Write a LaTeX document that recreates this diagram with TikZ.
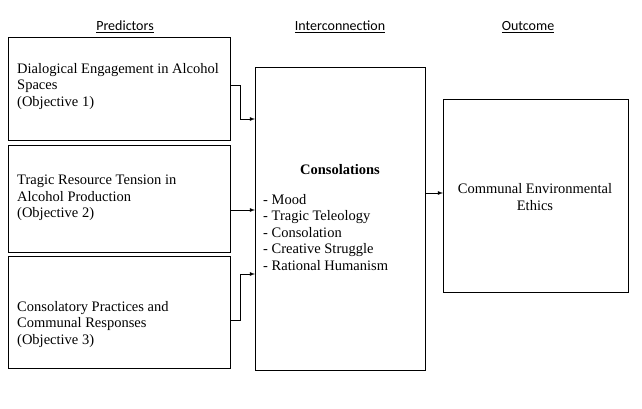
\documentclass[tikz,border=0pt]{standalone}
\usepackage{fontspec}
\setmainfont{Liberation Serif}
\newfontfamily\headfont{Carlito}
\usetikzlibrary{positioning}
\tikzset{
    box/.style = {draw, thick, inner sep=0pt},
    txt/.style = {align=left, font=\fontsize{14.5}{16.5}\selectfont, inner sep=0pt},
    head/.style = {font=\headfont\fontsize{14}{15}\selectfont, inner sep=0pt},
    link/.style = {thick, -latex}
}
\begin{document}
\begin{tikzpicture}[x=1pt, y=-1pt]
    \useasboundingbox (0,0) rectangle (642,409);

    % headings
    \node [head] (hpred) at (125,27) {\underline{Predictors}};
    \node [head] (hint) at (340,27) {\underline{Interconnection}};
    \node [head] (hout) at (528,27) {\underline{Outcome}};

    % predictor boxes
    \draw [box] (8,37) rectangle (230,140);
    \draw [box] (8,145) rectangle (230,252);
    \draw [box] (8,256) rectangle (230,368);
    \coordinate (p1) at (230,85);
    \coordinate (p2) at (230,210);
    \coordinate (p3) at (230,320);
    \node [txt, anchor=north west] (t1) at (17,63) {Dialogical Engagement in Alcohol\\Spaces\\(Objective 1)};
    \node [txt, anchor=north west] (t2) at (17,175) {Tragic Resource Tension in\\Alcohol Production\\(Objective 2)};
    \node [txt, anchor=north west] (t3) at (17,301) {Consolatory Practices and\\Communal Responses\\(Objective 3)};

    % interconnection box
    \draw [box] (255,67) rectangle (425,370);
    \coordinate (m1) at (255,119);
    \coordinate (m2) at (255,210);
    \coordinate (m3) at (255,274);
    \coordinate (mout) at (425,193);
    \node [txt, font=\fontsize{14.5}{16.5}\selectfont\bfseries] (ctitle) at (340,170) {Consolations};
    \node [txt, anchor=north west] (clist) at (263,194) {- Mood\\- Tragic Teleology\\- Consolation\\- Creative Struggle\\- Rational Humanism};

    % outcome box
    \draw [box] (443,99) rectangle (628,292);
    \coordinate (oin) at (443,193);
    \node [txt, align=center] (otext) at (535,197) {Communal Environmental\\Ethics};

    % connectors
    \draw [link] (p1) -| (240,119) -- (m1);
    \draw [link] (p2) -- (m2);
    \draw [link] (p3) -| (240,274) -- (m3);
    \draw [link] (mout) -- (oin);
\end{tikzpicture}
\end{document}
